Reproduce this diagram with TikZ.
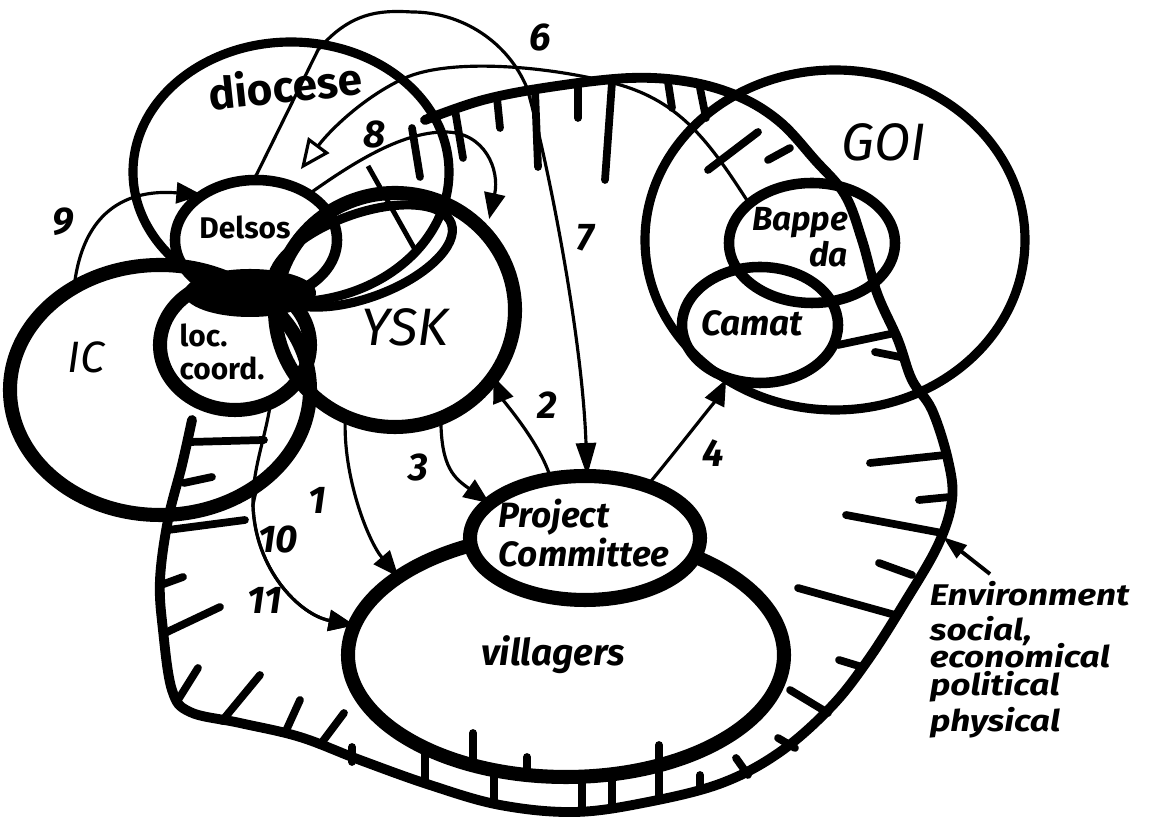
\documentclass[tikz,border=0pt]{standalone}
\usepackage{fontspec}
\setmainfont{Fira Sans}
\usetikzlibrary{arrows.meta,shapes.geometric}

\begin{document}
\begin{tikzpicture}[x=0.1mm,y=-0.1mm,
  ring/.style={draw,ellipse,inner sep=0pt,outer sep=0pt,line width=2.6pt},
  fat/.style={ring,line width=4pt},
  hatch/.style={line width=2.2pt,line cap=round},
  flow/.style={line width=0.9pt,-{Triangle[length=2.6mm,width=2.1mm]}},
  num/.style={font=\fontsize{11}{11}\selectfont\bfseries\itshape,inner sep=0pt},
  lbl/.style={font=\fontsize{10}{10}\selectfont\bfseries\itshape,align=left,inner sep=0pt},
  envline/.style={font=\fontsize{8.5}{8.5}\selectfont\bfseries\itshape,inner sep=0pt,anchor=base west,xscale=1.18},
  bigname/.style={font=\fontsize{15}{15}\selectfont\itshape,inner sep=0pt}]
\useasboundingbox (0,0) rectangle (1150,823);
% environment boundary and its hatching
\draw[line width=2.8pt,line cap=round] plot[smooth,tension=0.6] coordinates {(425,120) (483,100) (550,87) (630,78) (690,82) (740,97) (780,122) (815,160) (845,195) (862,240) (877,293) (898,340) (912,380) (932,410) (948,460) (952,500) (938,545) (905,602) (868,660) (831,707) (780,752) (722,783) (648,802) (575,812) (500,805) (430,785) (360,760) (300,737) (240,723) (190,712) (172,690) (163,630) (160,580) (168,520) (182,465) (192,420)};
\foreach \ax/\ay/\bx/\by in {412/128/420/177,455/110/463/158,497/98/500/128,535/90/538/167,578/86/578/118,612/82/605/180,668/82/672/108,700/88/706/118,758/132/708/170,790/148/768/160,895/333/838/345,905/358/875/352,
  945/455/870/463,950/497/919/500,942/533/846/515,912/575/879/563,895/615/798/588,862/667/839/660,828/713/790/690,795/748/778/738,748/775/736/758,700/790/700/775,659/800/659/745,612/806/612/775,582/811/582/777,494/803/494/772,425/783/425/750,
  527/776/527/757,473/762/473/733,352/762/352/747,320/745/344/713,285/733/300/700,222/721/260/675,178/700/198/668,165/633/220/607,161/585/183/577,168/530/245/520,184/483/212/477,190/442/264/440}
  \draw[hatch] (\ax,\ay) -- (\bx,\by);
\draw[line width=1.4pt] (368,166) -- (418,255);
% organisations
\node[ring,minimum width=31.6mm,minimum height=26mm] (diocese) at (291,172) {};
\node[ring,line width=3pt,minimum width=16.2mm,minimum height=12mm] (delsos) at (256,240) {};
\node[ring,minimum width=19mm,minimum height=8.4mm,rotate=20] (link) at (362,256) {};
\node[fat,minimum width=24mm,minimum height=23.4mm] (ysk) at (395,310) {};
\node[fat,minimum width=30mm,minimum height=25mm] (ic) at (160,390) {};
\node[fat,minimum width=15mm,minimum height=13mm] (loc) at (235,345) {};
\node[ring,minimum width=38mm,minimum height=34mm] (goi) at (835,240) {};
\node[ring,line width=3pt,minimum width=16.6mm,minimum height=12mm] (bappeda) at (812,243) {};
\node[ring,line width=3pt,minimum width=15.6mm,minimum height=11.6mm] (camat) at (760,325) {};
\node[fat,minimum width=43.6mm,minimum height=24.4mm] (villagers) at (566,655) {};
\node[fat,fill=white,minimum width=23mm,minimum height=12.4mm] (pc) at (585,538) {};
\fill (250,293) ellipse [x radius=66,y radius=24];
% labels
\node[font=\fontsize{12.5}{12.5}\selectfont\bfseries,rotate=6] (diotxt) at (285,85) {diocese};
\node[lbl,font=\fontsize{8.5}{8.5}\selectfont\bfseries] (delsostxt) at (245,227) {Delsos};
\node[lbl,font=\fontsize{8.5}{9.5}\selectfont\bfseries] (loctxt) at (222,352) {loc.\\coord.};
\node[bigname,font=\fontsize{12.5}{12.5}\selectfont\itshape] (ictxt) at (86,357) {IC};
\node[bigname] (ysktxt) at (405,327) {YSK};
\node[bigname] (goitxt) at (884,142) {GOI};
\node[lbl,align=right,font=\fontsize{9.5}{9}\selectfont\bfseries\itshape] (bappedatxt) at (800,237) {Bappe\\da};
\node[lbl] (camattxt) at (752,323) {Camat};
\node[lbl] (pctxt) at (584,533) {Project\\Committee};
\node[lbl,font=\fontsize{10.5}{10.5}\selectfont\bfseries\itshape] (villtxt) at (553,655) {villagers};
\node[envline] (env1) at (929,606) {Environment};
\node[envline] (env2) at (929,641) {social,};
\node[envline] (env3) at (929,668) {economical};
\node[envline] (env4) at (929,696) {political};
\node[envline] (env5) at (929,732) {physical};
\node[num] (n1) at (317,500) {1};\node[num] (n2) at (547,405) {2};\node[num] (n3) at (418,468) {3};\node[num] (n4) at (713,453) {4};
\node[num] (n6) at (540,38) {6};\node[num] (n7) at (585,238) {7};\node[num] (n8) at (375,135) {8};\node[num] (n9) at (63,222) {9};
\node[num] (n10) at (278,540) {10};\node[num] (n11) at (265,600) {11};
% relations
\draw[flow] (ysk.245) .. controls +(-3,60) and +(-30,-35) .. (villagers.155);
\draw[flow] (ysk.-67) .. controls +(0,50) and +(-35,-25) .. (pc.160);
\draw[flow] (pc.120) .. controls +(-10,-35) and +(10,25) .. (ysk.-34);
\draw[flow] (pc.40) .. controls +(25,-30) and +(-10,20) .. (goi.-128);
\draw[flow,-{Triangle[open,length=3mm,width=2.6mm]},shorten >=2mm] (bappeda.148) .. controls (705,135) and (675,95) .. (600,80) .. controls (530,64) and (445,60) .. (405,78) .. controls (365,96) and (330,130) .. (delsos.59);
\draw[flow,-{Triangle[length=3.3mm,width=2mm]}] (delsos.92) -- (318,50) .. controls (350,12) and (380,10) .. (412,12) .. controls (462,12) and (508,42) .. (527,88) .. controls (545,150) and (582,330) .. (pc.88);
\draw[flow,shorten >=1.5mm] (delsos.41) .. controls (350,165) and (400,132) .. (445,132) .. controls (485,132) and (500,170) .. (ysk.40);
\draw[flow] (ic.130) .. controls +(10,-90) and +(-60,-5) .. (delsos.140);
\draw[flow] (loc.-58) .. controls (265,440) and (252,470) .. (253,505) .. controls (255,570) and (300,615) .. (villagers.172);
\draw[flow] (ic.-42) .. controls (256,490) .. (253,505) .. controls (255,570) and (300,615) .. (villagers.172);
\coordinate (envtag) at (990,574);\coordinate (envedge) at (943,537);
\draw[line width=1.1pt,-{Triangle[length=2.4mm,width=1.6mm]}] (envtag) -- (envedge);
\end{tikzpicture}
\end{document}
